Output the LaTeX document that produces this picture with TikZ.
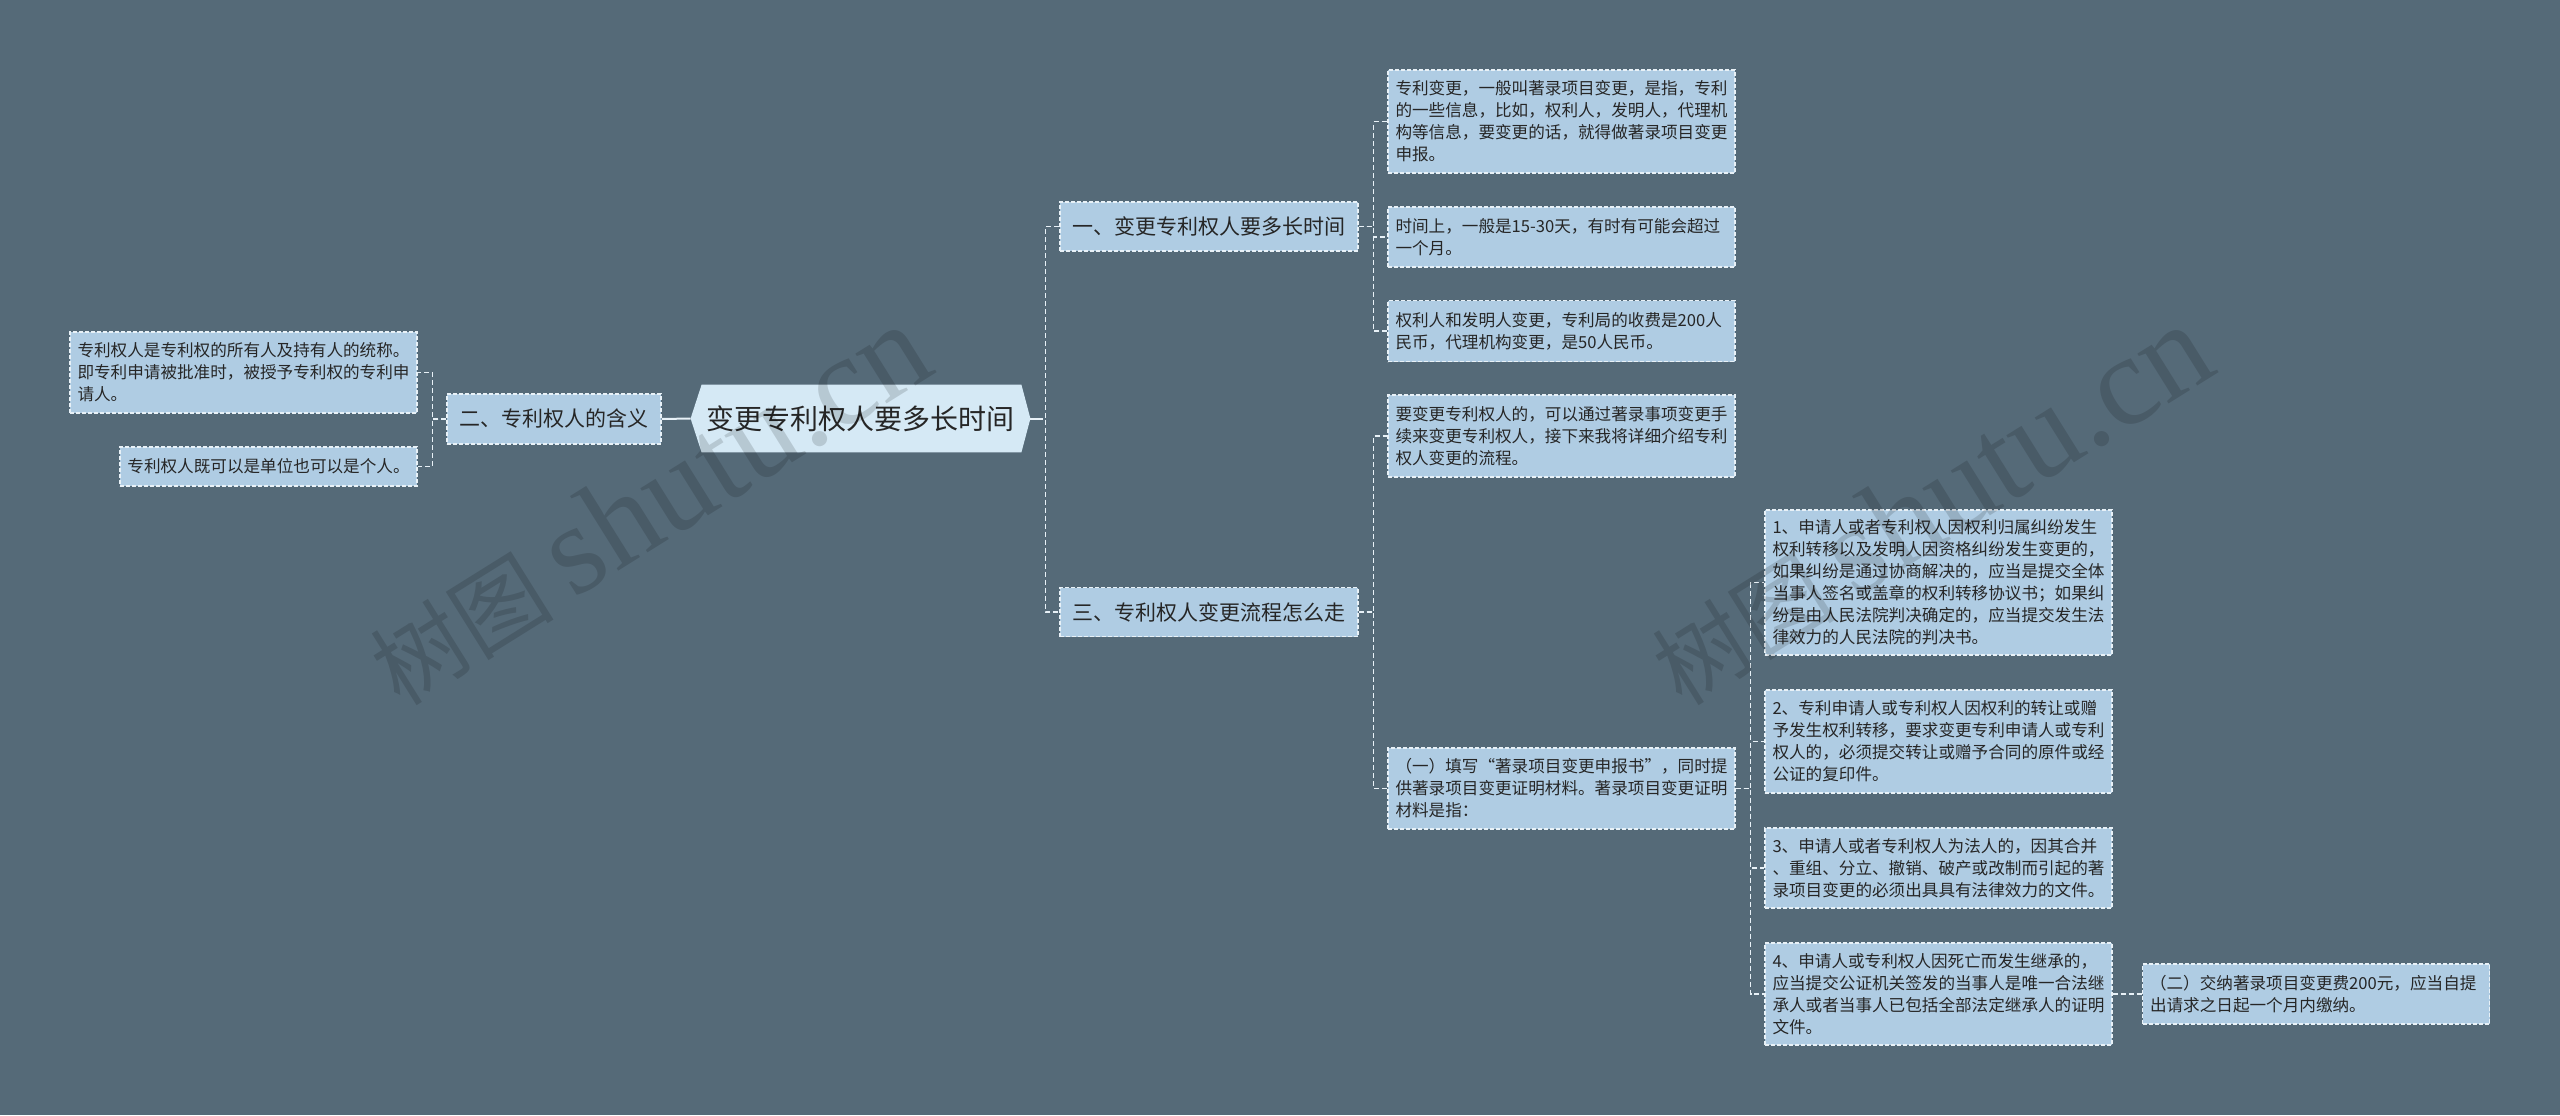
\documentclass[tikz,border=0pt]{standalone}
\usepackage{fontspec}
\newfontfamily\cjk{Noto Sans CJK SC}
\newfontfamily\wmlatin{Liberation Serif}
\usetikzlibrary{calc}
\pgfdeclarelayer{bg}
\pgfsetlayers{bg,main}
\definecolor{bgc}{RGB}{85,106,120}
\definecolor{boxc}{RGB}{175,204,227}
\definecolor{rootc}{RGB}{213,233,245}
\definecolor{edgec}{RGB}{232,241,247}
\definecolor{txtc}{RGB}{38,38,38}
\tikzset{
  leaf/.style={draw=edgec, line width=0.6pt, dash pattern=on 2pt off 1pt, fill=boxc, text=txtc,
    font=\cjk\fontsize{8.3}{11}\selectfont, align=left, text width=166pt, inner xsep=3.75pt, inner ysep=0pt},
  shortleaf/.style={draw=edgec, line width=0.6pt, dash pattern=on 2pt off 1pt, fill=boxc, text=txtc,
    font=\cjk\fontsize{8.3}{11}\selectfont, inner sep=0pt},
  branch/.style={draw=edgec, line width=0.6pt, dash pattern=on 2pt off 1pt, fill=boxc, text=txtc,
    font=\cjk\fontsize{10.5}{13}\selectfont, minimum height=24.5pt, inner sep=0pt},
  rootn/.style={text=txtc, font=\cjk\fontsize{14}{17}\selectfont, minimum width=169.5pt, minimum height=33.5pt, inner sep=0pt},
  conn/.style={draw=edgec, line width=0.8pt, dash pattern=on 2.5pt off 1.5pt},
  solidc/.style={draw=edgec, line width=1pt},
  wm/.style={text=black, text opacity=0.14, inner sep=0pt}
}
\begin{document}
\begin{tikzpicture}[x=0.5pt,y=-0.5pt]
\begin{pgfonlayer}{bg}
\fill[bgc] (0,0) rectangle (2560,1115);
\end{pgfonlayer}
\useasboundingbox (0,0) rectangle (2560,1115);

% root
\node[rootn] (root) at (860.5,418.5) {变更专利权人要多长时间};
\begin{pgfonlayer}{bg}
\fill[rootc] (root.west) -- ([xshift=5.5pt]root.north west) -- ([xshift=-4.5pt]root.north east)
  -- (root.east) -- ([xshift=-4.5pt]root.south east) -- ([xshift=5.5pt]root.south west) -- cycle;
\end{pgfonlayer}

% branches
\node[branch, minimum width=107pt, minimum height=25pt] (b2) at (554,419) {二、专利权人的含义};
\node[branch, minimum width=149pt] (b1) at (1209,226.5) {一、变更专利权人要多长时间};
\node[branch, minimum width=149pt] (b3) at (1209,612) {三、专利权人变更流程怎么走};

% left leaves
\node[leaf, minimum height=40.5pt] (l1) at (243.5,372.5) {专利权人是专利权的所有人及持有人的统称。\\即专利申请被批准时，被授予专利权的专利申\\请人。};
\node[shortleaf, minimum width=148.5pt, minimum height=19.5pt] (l2) at (268.5,466.5) {专利权人既可以是单位也可以是个人。};

% leaves of branch 1
\node[leaf, minimum height=51.5pt] (la) at (1561.5,121.5) {专利变更，一般叫著录项目变更，是指，专利\\的一些信息，比如，权利人，发明人，代理机\\构等信息，要变更的话，就得做著录项目变更\\申报。};
\node[leaf, minimum height=30pt] (lb) at (1561.5,237) {时间上，一般是15-30天，有时有可能会超过\\一个月。};
\node[leaf, minimum height=30.5pt] (lc) at (1561.5,331) {权利人和发明人变更，专利局的收费是200人\\民币，代理机构变更，是50人民币。};

% leaves of branch 3
\node[leaf, minimum height=41pt] (ld) at (1561.5,436) {要变更专利权人的，可以通过著录事项变更手\\续来变更专利权人，接下来我将详细介绍专利\\权人变更的流程。};
\node[leaf, minimum height=40.5pt] (le) at (1561.5,788.5) {（一）填写“著录项目变更申报书”，同时提\\供著录项目变更证明材料。著录项目变更证明\\材料是指：};

% children of le
\node[leaf, minimum height=72.5pt] (f1) at (1938.5,582.5) {1、申请人或者专利权人因权利归属纠纷发生\\权利转移以及发明人因资格纠纷发生变更的，\\如果纠纷是通过协商解决的，应当是提交全体\\当事人签名或盖章的权利转移协议书；如果纠\\纷是由人民法院判决确定的，应当提交发生法\\律效力的人民法院的判决书。};
\node[leaf, minimum height=51.5pt] (f2) at (1938.5,741.5) {2、专利申请人或专利权人因权利的转让或赠\\予发生权利转移，要求变更专利申请人或专利\\权人的，必须提交转让或赠予合同的原件或经\\公证的复印件。};
\node[leaf, minimum height=40pt] (f3) at (1938.5,868) {3、申请人或者专利权人为法人的，因其合并\\、重组、分立、撤销、破产或改制而引起的著\\录项目变更的必须出具具有法律效力的文件。};
\node[leaf, minimum height=51pt] (f4) at (1938.5,994) {4、申请人或专利权人因死亡而发生继承的，\\应当提交公证机关签发的当事人是唯一合法继\\承人或者当事人已包括全部法定继承人的证明\\文件。};
\node[leaf, minimum height=30pt] (g) at (2316,994) {（二）交纳著录项目变更费200元，应当自提\\出请求之日起一个月内缴纳。};

% connectors
\draw[solidc] (root.west) -- (b2.east);
\draw[conn] (b2.west) -- ++(-14,0) |- (l1.east);
\draw[conn] (b2.west) -- ++(-14,0) |- (l2.east);
\draw[conn] (root.east) -- ++(15,0) |- (b1.west);
\draw[conn] (root.east) -- ++(15,0) |- (b3.west);
\draw[solidc] (root.east) -- ++(13,0);
\draw[conn] (b1.east) -- ++(15,0) |- (la.west);
\draw[conn] (b1.east) -- ++(15,0) |- (lb.west);
\draw[conn] (b1.east) -- ++(15,0) |- (lc.west);
\draw[conn] (b3.east) -- ++(15,0) |- (ld.west);
\draw[conn] (b3.east) -- ++(15,0) |- (le.west);
\draw[conn] (le.east) -- ++(15,0) |- (f1.west);
\draw[conn] (le.east) -- ++(15,0) |- (f2.west);
\draw[conn] (le.east) -- ++(15,0) |- (f3.west);
\draw[conn] (le.east) -- ++(15,0) |- (f4.west);
\draw[conn] (f4.east) -- (g.west);

% watermarks
\node[wm, rotate=32] (wm1) at (648,505) {\cjk\fontsize{46}{46}\selectfont 树图\ \wmlatin\fontsize{64}{64}\selectfont shutu.cn};
\node[wm, rotate=32] (wm2) at (1930,505) {\cjk\fontsize{46}{46}\selectfont 树图\ \wmlatin\fontsize{64}{64}\selectfont shutu.cn};
\end{tikzpicture}
\end{document}
